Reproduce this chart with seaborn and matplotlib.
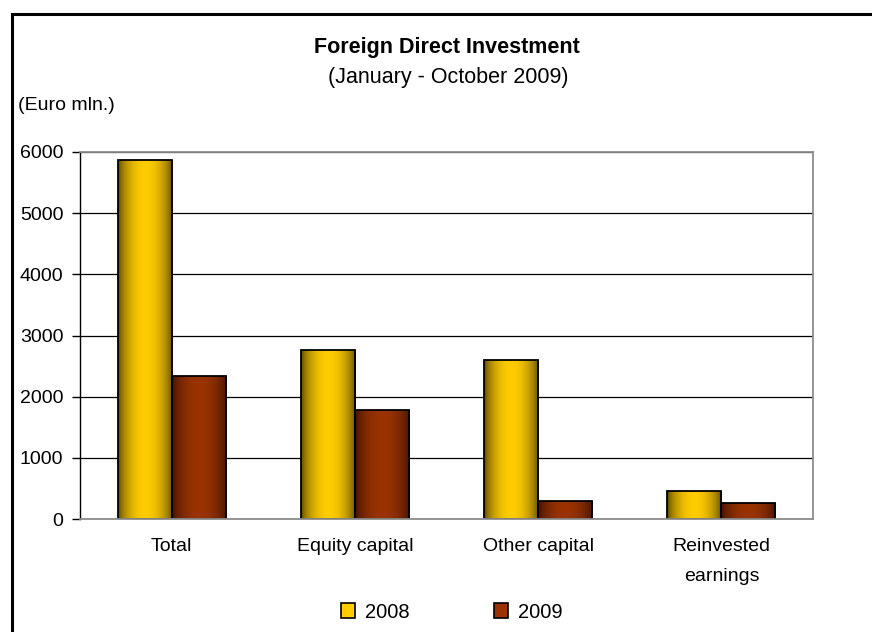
import numpy as np
import pandas as pd
import seaborn as sns
import matplotlib.pyplot as plt
from matplotlib.patches import Rectangle, Patch

# data (Euro mln.)
categories = ["Total", "Equity capital", "Other capital", "Reinvested\nearnings"]
years = ["2008", "2009"]
values_2008 = [5870, 2760, 2600, 450]
values_2009 = [2340, 1780, 290, 260]

df = pd.DataFrame({
    "category": categories * 2,
    "year": [years[0]] * 4 + [years[1]] * 4,
    "value": values_2008 + values_2009,
})

# bright centre / dark edge for each series
bright = {"2008": (1.0, 0.80, 0.0), "2009": (0.60, 0.20, 0.0)}
dark = {"2008": (0.40, 0.32, 0.0), "2009": (0.28, 0.08, 0.0)}

sns.set_style("white")
plt.rcParams["font.family"] = ["Liberation Sans", "DejaVu Sans"]
plt.rcParams["text.color"] = "black"
plt.rcParams["xtick.color"] = "black"
plt.rcParams["ytick.color"] = "black"

fig = plt.figure(figsize=(8.72, 6.32), dpi=100)
ax = fig.add_axes([80 / 872, 113 / 632, 733 / 872, 367 / 632])

sns.barplot(
    data=df, x="category", y="value", hue="year", order=categories,
    palette=[bright["2008"], bright["2009"]], width=0.59, gap=0,
    edgecolor="black", linewidth=1.3, legend=False, ax=ax,
)

# horizontal gradient inside every bar (dark edges, bright middle)
t = np.linspace(0, 1, 200)
prof = np.clip(np.sin(np.pi * np.clip((t - 0.02) / 0.96, 0, 1)) ** 0.7, 0, 1)
for cont, yr in zip(ax.containers, years):
    b = np.array(bright[yr])
    d = np.array(dark[yr])
    grad = (d[None, :] + (b - d)[None, :] * prof[:, None])[None, :, :]
    for bar in cont:
        x0, w, h = bar.get_x(), bar.get_width(), bar.get_height()
        im = ax.imshow(grad, extent=[x0, x0 + w, 0, h], aspect="auto",
                       interpolation="bilinear", zorder=bar.get_zorder() - 0.01)
        im.set_clip_path(bar)
        bar.set_facecolor("none")

ax.set_xlim(-0.5, 3.5)
ax.set_ylim(0, 6000)
ax.set_yticks(range(0, 6001, 1000))
ax.set_xlabel("")
ax.set_ylabel("")

ax.set_axisbelow(True)
ax.yaxis.grid(True, color="black", linewidth=0.9)
ax.xaxis.grid(False)
for side in ["top", "right", "bottom"]:
    ax.spines[side].set_color("#8c8c8c")
    ax.spines[side].set_linewidth(1.3)
ax.spines["left"].set_color("black")
ax.spines["left"].set_linewidth(1.0)

ax.tick_params(axis="y", direction="out", length=6, width=1, color="black",
               labelsize=14, pad=6, left=True, labelcolor="black")
ax.tick_params(axis="x", length=0, labelsize=14, pad=14, labelcolor="black")
for lab in ax.get_xticklabels():
    lab.set_linespacing(2.0)
    lab.set_verticalalignment("top")

# titles and unit label
fig.text(447 / 872, 1 - 47 / 632, "Foreign Direct Investment", ha="center",
         va="center", fontsize=15.5, fontweight="bold")
fig.text(448 / 872, 1 - 77 / 632, "(January - October 2009)", ha="center",
         va="center", fontsize=15.5)
fig.text(18 / 872, 1 - 106 / 632, "(Euro mln.)", ha="left", va="center",
         fontsize=14)

# legend at the bottom
handles = [Patch(facecolor=bright[y], edgecolor="black", linewidth=1.2, label=y)
           for y in years]
fig.legend(handles=handles, loc="center", bbox_to_anchor=(452 / 872, 1 - 612 / 632),
           ncol=2, frameon=False, fontsize=14.5, handlelength=0.7, handleheight=0.7,
           handletextpad=0.5, columnspacing=4.2)

# outer chart frame (runs off the right and bottom edges)
fig.patches.append(Rectangle((12 / 872, -0.05), 1.2, 1 - 14 / 632 + 0.05,
                             transform=fig.transFigure, fill=False,
                             edgecolor="black", linewidth=2.2))

fig.savefig("out.png", dpi=100)
